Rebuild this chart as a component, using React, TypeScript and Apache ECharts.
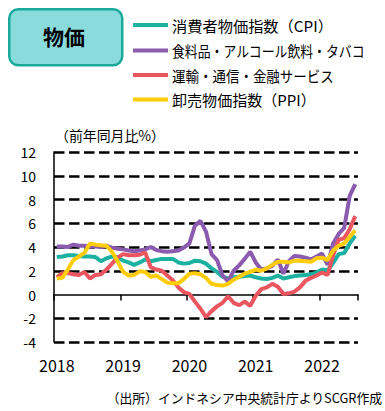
import React, { useEffect, useRef } from "react";
import * as echarts from "echarts";

const years = ["2018", "2019", "2020", "2021", "2022"];
const monthCount = 55; // Jan 2018 .. Jul 2022

const seriesNames = [
  "消費者物価指数（CPI）",
  "食料品・アルコール飲料・タバコ",
  "運輸・通信・金融サービス",
  "卸売物価指数（PPI）",
];

const cpi = [
  3.15, 3.2, 3.3, 3.3, 3.25, 3.2, 3.2, 3.15, 2.8, 3.05, 3.2, 3.15,
  2.85, 2.7, 2.5, 2.7, 2.95, 2.8, 2.9, 3.0, 3.0, 3.0, 2.7, 2.6,
  2.65, 2.85, 2.8, 2.6, 2.2, 1.9, 1.5, 1.35, 1.45, 1.5, 1.55, 1.6,
  1.45, 1.35, 1.3, 1.4, 1.6, 1.35, 1.45, 1.55, 1.6, 1.65, 1.7, 1.85,
  2.1, 2.05, 2.65, 3.4, 3.5, 4.3, 4.95,
];

const food = [
  4.05, 4.05, 4.0, 4.2, 4.1, 4.1, 4.05, 4.05, 4.0, 4.1, 3.95, 3.85,
  3.8, 3.7, 3.65, 3.7, 3.8, 4.0, 3.75, 3.65, 3.6, 3.65, 3.7, 3.95,
  4.3, 5.8, 6.2, 5.3, 3.4, 2.9, 1.6, 1.1, 2.0, 2.45, 3.0, 3.6,
  2.7, 2.1, 2.2, 2.4, 2.95, 1.75, 2.8, 3.25, 3.2, 3.1, 2.95, 3.2,
  3.45, 2.5, 4.3, 5.1, 5.6, 8.3, 9.3,
];

const transport = [
  1.45, 1.8, 1.8, 1.7, 1.65, 1.9, 1.35, 1.65, 1.7, 2.1, 2.6, 3.1,
  3.4, 3.3, 3.3, 3.35, 3.55, 2.3, 2.1, 2.0, 1.6, 1.2, 0.6, 0.2,
  0.05, -0.6, -1.2, -1.9, -1.4, -1.0, -0.7, -0.15, -0.7, -0.9, -0.6, -0.95,
  -0.1, 0.45, 0.6, 0.9, 0.65, 0.05, 0.1, 0.25, 0.6, 1.15, 1.4, 1.6,
  1.85, 1.65, 3.3, 4.6, 4.75, 5.5, 6.6,
];

const ppi = [
  1.35, 1.4, 2.1, 2.9, 3.2, 3.5, 4.3, 4.2, 4.15, 4.1, 3.6, 2.8,
  1.9, 1.6, 1.65, 1.95, 1.9, 1.5, 1.6, 1.3, 1.0, 0.95, 0.95, 1.3,
  1.75, 1.8, 1.7, 1.4, 0.9, 0.8, 0.75, 0.9, 1.25, 1.5, 1.75, 1.9,
  2.1, 2.0, 2.2, 2.5, 2.75, 2.75, 2.7, 2.85, 2.85, 2.8, 2.75, 3.05,
  3.1, 2.9, 3.7, 4.1, 4.3, 4.85, 5.4,
];

const seriesValues = [cpi, food, transport, ppi];
const colors = ["#1DB1A1", "#8A5BAE", "#EA5660", "#FFCC0A"];

const yMin = -4;
const yMax = 12;
const yStep = 2;

const titleText = "物価";
const unitText = "（前年同月比%）";
const sourceText = "（出所）インドネシア中央統計庁よりSCGR作成";

const FONT = "'Noto Sans CJK JP', 'Noto Sans', sans-serif";

// target widths (px) measured on the reference, used to fit text widths
const legendTextWidths = [161, 193, 162, 144];
const legendRowY = [25, 50.5, 75, 99.5];

function measure(text: string, size: number, weight = "normal"): number {
  const c = document.createElement("canvas").getContext("2d");
  if (!c) return text.length * size;
  c.font = `${weight} ${size}px ${FONT}`;
  return c.measureText(text).width;
}

function fitScale(text: string, size: number, target: number, weight = "normal") {
  const w = measure(text, size, weight);
  if (!w) return 1;
  return Math.max(0.75, Math.min(1.2, target / w));
}

export default function App() {
  const ref = useRef<HTMLDivElement>(null);

  useEffect(() => {
    if (!ref.current) return;
    const chart = echarts.init(ref.current, undefined, { renderer: "svg" });

    const categories: string[] = [];
    for (let i = 0; i < monthCount; i++) {
      const y = years[Math.floor(i / 12)];
      categories.push(`${y}/${(i % 12) + 1}`);
    }

    const splitColors: string[] = [];
    for (let v = yMin; v <= yMax; v += yStep) {
      splitColors.push(v === 0 ? "rgba(0,0,0,0)" : "#000");
    }

    const legendGraphics: any[] = [];
    seriesNames.forEach((name, k) => {
      const y = legendRowY[k];
      legendGraphics.push({
        type: "line",
        shape: { x1: 133, y1: y, x2: 168, y2: y },
        style: { stroke: colors[k], lineWidth: 4 },
      });
      legendGraphics.push({
        type: "text",
        x: 172,
        y: y + 0.5,
        scaleX: fitScale(name, 15, legendTextWidths[k]),
        style: {
          text: name,
          fontSize: 15,
          fill: "#000",
          align: "left",
          verticalAlign: "middle",
          fontFamily: FONT,
        },
      });
    });

    chart.setOption({
      animation: false,
      textStyle: { fontFamily: FONT },
      color: colors,
      grid: { left: 54, right: 27, top: 152, bottom: 69, containLabel: false },
      xAxis: [
        {
          type: "category",
          data: categories,
          boundaryGap: true,
          position: "bottom",
          axisLine: { show: false, onZero: false },
          axisTick: { show: false },
          axisLabel: {
            interval: (idx: number) => idx % 12 === 0,
            formatter: (v: string) => v.split("/")[0],
            fontSize: 16,
            color: "#000",
            margin: 15,
            fontFamily: FONT,
          },
          splitLine: { show: false },
        },
        {
          type: "category",
          data: categories,
          boundaryGap: true,
          position: "bottom",
          axisLine: { show: true, onZero: true, lineStyle: { color: "#000", width: 1.5 } },
          axisTick: {
            show: true,
            interval: (idx: number) => idx % 12 === 0,
            length: 6,
            lineStyle: { color: "#000", width: 1.5 },
          },
          axisLabel: { show: false },
          splitLine: { show: false },
        },
      ],
      yAxis: {
        type: "value",
        min: yMin,
        max: yMax,
        interval: yStep,
        axisLine: { show: true, onZero: false, lineStyle: { color: "#000", width: 1.5 } },
        axisTick: { show: false },
        axisLabel: { fontSize: 14, color: "#000", margin: 18, fontFamily: FONT },
        splitLine: {
          show: true,
          lineStyle: { color: splitColors, width: 2.5, type: [10.5, 4.5] },
        },
      },
      series: seriesNames.map((name, k) => ({
        name,
        type: "line",
        data: seriesValues[k],
        xAxisIndex: 0,
        yAxisIndex: 0,
        symbol: "none",
        smooth: false,
        lineStyle: { width: 4, color: colors[k] },
        itemStyle: { color: colors[k] },
      })),
      graphic: [
        {
          type: "rect",
          left: 8,
          top: 8,
          shape: { width: 113, height: 56, r: 9 },
          style: { fill: "#8ADCDC", stroke: "#1AAA9B", lineWidth: 2.5 },
        },
        {
          type: "text",
          x: 64,
          y: 36,
          style: {
            text: titleText,
            fontSize: 21,
            fontWeight: "bold",
            fill: "#000",
            align: "center",
            verticalAlign: "middle",
            fontFamily: FONT,
          },
        },
        ...legendGraphics,
        {
          type: "text",
          x: 55,
          y: 135,
          scaleX: fitScale(unitText, 14, 110),
          style: {
            text: unitText,
            fontSize: 14,
            fill: "#000",
            align: "left",
            verticalAlign: "middle",
            fontFamily: FONT,
          },
        },
        {
          type: "text",
          x: 382,
          y: 397,
          scaleX: fitScale(sourceText, 13, 276),
          style: {
            text: sourceText,
            fontSize: 13,
            fill: "#000",
            align: "right",
            verticalAlign: "middle",
            fontFamily: FONT,
          },
        },
      ],
    });

    return () => chart.dispose();
  }, []);

  return (
    <div
      ref={ref}
      style={{ position: "absolute", left: 0, top: 0, width: 385, height: 411 }}
    />
  );
}
